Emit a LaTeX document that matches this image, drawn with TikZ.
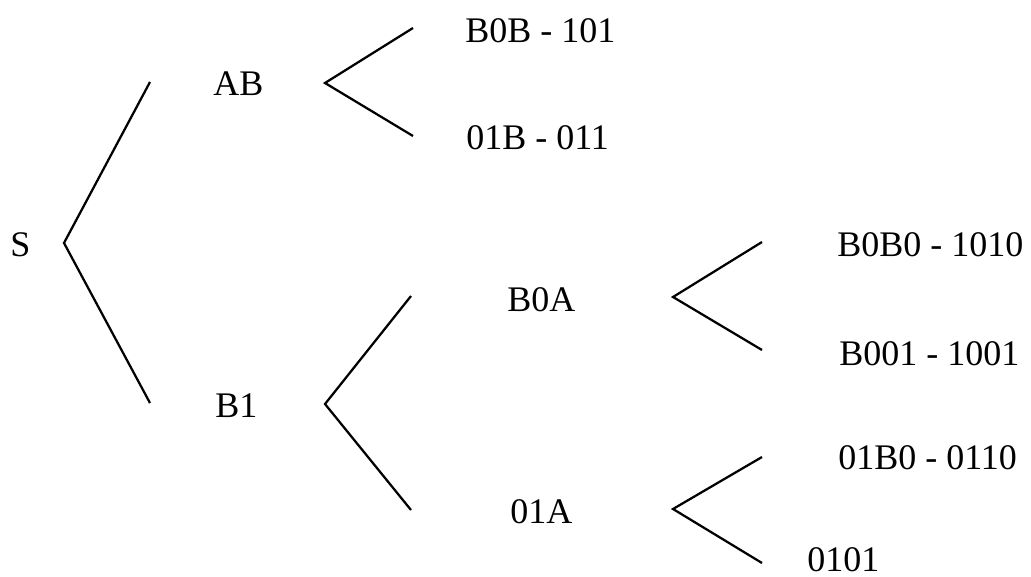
\documentclass[tikz,border=0pt]{standalone}
\usepackage{fontspec}
\setmainfont{Liberation Serif}
\begin{document}
\begin{tikzpicture}[x=0.025cm, y=-0.025cm,
  word/.style={anchor=base west, inner sep=0pt, font=\fontsize{25.6}{30}\selectfont},
  branch/.style={line width=1.6pt}]
\useasboundingbox (0,0) rectangle (1031,577);

% Root
\node (S) [word] at (10,256) {S};
\coordinate (s-fork) at (64,243);
\coordinate (s-up) at (150,82);
\coordinate (s-down) at (150,403);

% First level
\node (AB) [word] at (213,96) {AB};
\node (B1) [word] at (215,417) {B1};
\coordinate (ab-fork) at (325,83);
\coordinate (ab-up) at (413,28);
\coordinate (ab-down) at (413,136);
\coordinate (b1-fork) at (325,404);
\coordinate (b1-up) at (411,296);
\coordinate (b1-down) at (411,510);

% Second level
\node (b0b) [word] at (465,43) {B0B - 101};
\node (01b) [word] at (466,150) {01B - 011};
\node (B0A) [word] at (507,311) {B0A};
\node (01A) [word] at (510,523) {01A};
\coordinate (b0a-fork) at (673,297);
\coordinate (b0a-up) at (762,242);
\coordinate (b0a-down) at (762,350);
\coordinate (01a-fork) at (673,509);
\coordinate (01a-up) at (762,457);
\coordinate (01a-down) at (762,563);

% Third level
\node (b0b0) [word] at (837,256) {B0B0 - 1010};
\node (b001) [word] at (839,365) {B001 - 1001};
\node (01b0) [word] at (838,469) {01B0 - 0110};
\node (0101) [word] at (807,571) {0101};

\draw[branch] (s-up) -- (s-fork) -- (s-down);
\draw[branch] (ab-up) -- (ab-fork) -- (ab-down);
\draw[branch] (b1-up) -- (b1-fork) -- (b1-down);
\draw[branch] (b0a-up) -- (b0a-fork) -- (b0a-down);
\draw[branch] (01a-up) -- (01a-fork) -- (01a-down);

\end{tikzpicture}
\end{document}
